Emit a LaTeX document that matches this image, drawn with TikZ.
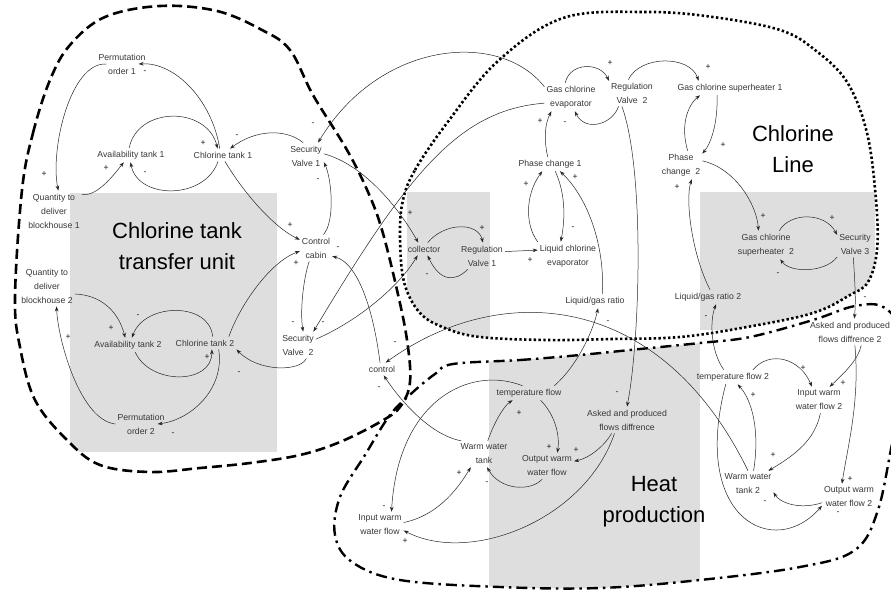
\documentclass[tikz,border=0pt]{standalone}
\usepackage{fontspec}
\setmainfont{Liberation Sans}
\usetikzlibrary{arrows.meta}
\newcommand{\lfs}{\fontsize{8.7}{14}\selectfont}
\newcommand{\bfs}{\fontsize{22}{31}\selectfont}
\newcommand{\sfs}{\fontsize{8.5}{9}\selectfont}
\begin{document}
\begin{tikzpicture}[x=1pt,y=-1pt,
  lbl/.style={font=\lfs, align=center, text=black!78, inner xsep=2pt, inner ysep=3pt},
  big/.style={font=\bfs, align=center, text=black},
  sg/.style={font=\sfs, text=black!90, inner sep=0pt},
  arr/.style={draw=black!85, line width=0.5pt, -{Stealth[length=5pt,width=3.6pt]}},
  gfill/.style={fill=black!13},
  tubound/.style={draw=black, line width=2.6pt, dash pattern=on 10pt off 5pt},
  clbound/.style={draw=black, line width=2.6pt, dash pattern=on 2.4pt off 2.4pt},
  hpbound/.style={draw=black, line width=2.4pt, dash pattern=on 11pt off 5pt on 2.5pt off 5pt}]
\fill[white] (0,0) rectangle (891,591);
\useasboundingbox (0,0) rectangle (891,591);
% gray areas
\begin{scope}
\clip plot[smooth cycle, tension=0.6] coordinates {(22,190) (33,133) (50,80) (70,45) (105,17) (160,6) (217,11) (262,30) (290,50) (313,95) (347,150) (368,192) (382,230) (397,290) (407,340) (410,382) (400,407) (380,422) (340,442) (300,455) (250,463) (200,468) (150,472) (100,465) (67,440) (35,400) (20,347) (15,297)};
\fill[gfill] (70,193) rectangle (277,452);
\end{scope}
\begin{scope}
\clip plot[smooth cycle, tension=0.6] coordinates {(403,200) (415,170) (447,123) (497,62) (563,18) (647,12) (713,17) (780,30) (815,50) (847,82) (867,133) (876,200) (877,250) (868,282) (850,295) (813,313) (747,327) (680,337) (613,339) (547,340) (480,337) (445,328) (420,313) (404,282) (400,235)};
\fill[gfill] (407,192) rectangle (490,345);
\fill[gfill] (700,192) rectangle (875,330);
\end{scope}
\begin{scope}
\clip plot[smooth cycle, tension=0.6] coordinates {(453,364) (520,360) (580,355) (640,349) (700,343) (750,337) (813,320) (855,306) (885,308) (906,340) (905,400) (893,440) (878,510) (855,550) (800,567) (700,580) (600,588) (500,587) (400,580) (352,562) (335,535) (340,497) (365,455) (390,415) (413,392) (435,374)};
\fill[gfill] (489,330) rectangle (700,595);
\end{scope}
% boundaries
\draw[tubound] plot[smooth cycle, tension=0.6] coordinates {(22,190) (33,133) (50,80) (70,45) (105,17) (160,6) (217,11) (262,30) (290,50) (313,95) (347,150) (368,192) (382,230) (397,290) (407,340) (410,382) (400,407) (380,422) (340,442) (300,455) (250,463) (200,468) (150,472) (100,465) (67,440) (35,400) (20,347) (15,297)};
\draw[clbound] plot[smooth cycle, tension=0.6] coordinates {(403,200) (415,170) (447,123) (497,62) (563,18) (647,12) (713,17) (780,30) (815,50) (847,82) (867,133) (876,200) (877,250) (868,282) (850,295) (813,313) (747,327) (680,337) (613,339) (547,340) (480,337) (445,328) (420,313) (404,282) (400,235)};
\draw[hpbound] plot[smooth cycle, tension=0.6] coordinates {(453,364) (520,360) (580,355) (640,349) (700,343) (750,337) (813,320) (855,306) (885,308) (906,340) (905,400) (893,440) (878,510) (855,550) (800,567) (700,580) (600,588) (500,587) (400,580) (352,562) (335,535) (340,497) (365,455) (390,415) (413,392) (435,374)};
% big labels
\node[big] (BL1) at (177,246) {Chlorine tank\\transfer unit};
\node[big] (BL2) at (793,149) {Chlorine\\Line};
\node[big] (BL3) at (654,502) {Heat\\production};
% variables
\node[lbl] (P1) at (122,64) {Permutation\\order 1};
\node[lbl] (AT1) at (131,155) {Availability tank 1};
\node[lbl] (CT1) at (223,155) {Chlorine tank 1};
\node[lbl] (Q1) at (54,211) {Quantity to\\deliver\\blockhouse 1};
\node[lbl] (Q2) at (47,286) {Quantity to\\deliver\\blockhouse 2};
\node[lbl] (AT2) at (128,345) {Availability tank 2};
\node[lbl] (CT2) at (205,343) {Chlorine tank 2};
\node[lbl] (P2) at (141,424) {Permutation\\order 2};
\node[lbl] (SV1) at (306,156) {Security\\Valve 1};
\node[lbl] (CC) at (316,248) {Control\\cabin};
\node[lbl] (SV2) at (298,345) {Security\\Valve~ 2};
\node[lbl] (CTRL) at (382,369) {control};
\node[lbl] (COL) at (424,249) {collector};
\node[lbl] (RV1) at (482,256) {Regulation\\Valve 1};
\node[lbl] (LCE) at (568,256) {Liquid chlorine\\evaporator};
\node[lbl] (LGR) at (595,301) {Liquid/gas ratio};
\node[lbl] (PC1) at (550,164) {Phase change 1};
\node[lbl] (GCE) at (571,97) {Gas chlorine\\evaporator};
\node[lbl] (RV2) at (632,93) {Regulation\\Valve~ 2};
\node[lbl] (GCS1) at (730,88) {Gas chlorine superheater 1};
\node[lbl] (PC2) at (681,165) {Phase\\change~ 2};
\node[lbl] (GCS2) at (766,245) {Gas chlorine\\superheater~ 2};
\node[lbl] (SV3) at (855,244) {Security\\Valve 3};
\node[lbl] (LGR2) at (708,297) {Liquid/gas ratio 2};
\node[lbl] (APFD2) at (850,332) {Asked and produced\\flows diffrence 2};
\node[lbl] (TF2) at (733,377) {temperature flow 2};
\node[lbl] (IWF2) at (819,400) {Input warm\\water flow 2};
\node[lbl] (WWT2) at (748,484) {Warm water\\tank 2};
\node[lbl] (OWF2) at (849,497) {Output warm\\water flow 2};
\node[lbl] (TF) at (529,393) {temperature flow};
\node[lbl] (APFD) at (627,420) {Asked and produced\\flows diffrence};
\node[lbl] (WWT) at (484,454) {Warm water\\tank};
\node[lbl] (OWF) at (547,466) {Output warm\\water flow};
\node[lbl] (IWF) at (380,525) {Input warm\\water flow};
% connectors
\draw[arr] (CT1.117) .. controls (212,100) and (175,62) .. ([xshift=-9pt]P1.east);
\draw[arr] ([xshift=10pt]P1.west) .. controls (70,62) and (50,150) .. (Q1.78);
\draw[arr] (Q1.31) .. controls (95,197) and (110,180) .. (AT1.225);
\draw[arr] (AT1.104) .. controls (138,106) and (207,106) .. (CT1.130);
\draw[arr] (CT1.232) .. controls (205,200) and (138,200) .. (AT1.266);
\draw[arr] (SV1.102) .. controls (285,128) and (255,130) .. (CT1.42);
\draw[arr] (CT1.287) .. controls (245,195) and (275,228) .. (CC.153);
\draw[arr] (CC.61) .. controls (335,222) and (332,180) .. (SV1.341);
\draw[arr] (CT2.15) .. controls (240,305) and (270,262) .. (CC.191);
\draw[arr] (CC.243) .. controls (303,280) and (300,312) .. (SV2.69);
\draw[arr] (GCE.159) .. controls (500,30) and (380,40) .. (SV1.48);
\draw[arr] (GCE.193) .. controls (460,110) and (410,170) .. (SV2.41);
\draw[arr] (SV1.7) .. controls (365,165) and (400,210) .. (COL.132);
\draw[arr] (SV2.18) .. controls (360,320) and (400,285) .. (COL.225);
\draw[arr] (SV2.302) .. controls (300,372) and (258,372) .. (CT2.south east);
\draw[arr] (Q2.344) .. controls (100,295) and (118,310) .. (AT2.111);
\draw[arr] (CT2.40) .. controls (210,302) and (145,302) .. (AT2.62);
\draw[arr] (AT2.315) .. controls (150,385) and (212,385) .. (CT2.317);
\draw[arr] (CT2.335) .. controls (225,390) and (190,420) .. ([xshift=-9pt]P2.east);
\draw[arr] (P2.west) .. controls (80,420) and (58,340) .. (Q2.295);
\draw[arr] (COL.60) .. controls (445,222) and (478,222) .. (RV1.86);
\draw[arr] (RV1.223) .. controls (455,282) and (440,282) .. (COL.299);
\draw[arr] (RV1.11) -- (LCE.169);
\draw[arr] (LCE.155) .. controls (525,225) and (525,195) .. (PC1.223);
\draw[arr] (PC1.306) .. controls (566,195) and (565,220) .. (LCE.117);
\draw[arr] (LGR.45) .. controls (605,250) and (590,200) .. (PC1.324);
\draw[arr] (PC1.108) .. controls (543,135) and (546,122) .. (GCE.216);
\draw[arr] (GCE.112) .. controls (570,62) and (600,62) .. (RV2.152);
\draw[arr] (RV2.225) .. controls (612,125) and (585,132) .. (GCE.285);
\draw[arr] (RV2.105) .. controls (640,55) and (690,55) .. (GCS1.167);
\draw[arr] ([xshift=-13pt]GCS1.south) .. controls (718,120) and (712,142) .. (PC2.28);
\draw[arr] (PC2.65) .. controls (680,125) and (688,105) .. ([xshift=-30pt]GCS1.south);
\draw[arr] (RV2.233) .. controls (645,170) and (640,340) .. (APFD.north);
\draw[arr] (LGR2.74) .. controls (692,255) and (685,200) .. (PC2.307);
\draw[arr] (PC2.11) .. controls (735,168) and (757,205) .. (GCS2.118);
\draw[arr] (GCS2.47) .. controls (790,212) and (825,212) .. (SV3.153);
\draw[arr] (SV3.216) .. controls (825,273) and (790,273) .. (GCS2.315);
\draw[arr] (SV3.263) .. controls (855,285) and (856,300) .. (APFD2.72);
\draw[arr] (APFD2.310) .. controls (858,360) and (845,372) .. (IWF2.51);
\draw[arr] (APFD2.290) .. controls (860,400) and (848,445) .. (OWF2.118);
\draw[arr] (TF2.20) .. controls (770,350) and (800,358) .. (IWF2.118);
\draw[arr] (WWT2.67) .. controls (760,430) and (752,400) .. (TF2.302);
\draw[arr] (TF2.142) .. controls (710,350) and (710,320) .. (LGR2.318);
\draw[arr] (TF2.225) .. controls (690,520) and (775,560) .. (OWF2.198);
\draw[arr] (IWF2.276) .. controls (815,440) and (795,455) .. (WWT2.33);
\draw[arr] (OWF2.192) .. controls (800,510) and (780,503) .. (WWT2.342);
\draw[arr] (WWT2.north) .. controls (660,290) and (500,280) .. (CTRL.60);
\draw[arr] (WWT.150) .. controls (430,435) and (400,400) .. (CTRL.285);
\draw[arr] (CTRL.107) .. controls (372,300) and (355,262) .. (CC.333);
\draw[arr] (TF.16) .. controls (575,368) and (592,335) .. (LGR.293);
\draw[arr] (WWT.74) .. controls (495,420) and (505,405) .. (TF.204);
\draw[arr] (TF.328) .. controls (555,415) and (560,435) .. (OWF.52);
\draw[arr] (APFD.221) .. controls (605,445) and (590,458) .. (OWF.10);
\draw[arr] (APFD.227) .. controls (585,520) and (470,565) .. (IWF.347);
\draw[arr] (OWF.250) .. controls (530,492) and (500,490) .. (WWT.283);
\draw[arr] (IWF.6) .. controls (440,515) and (460,485) .. (WWT.225);
\draw[arr] (TF.132) .. controls (470,365) and (398,400) .. (IWF.49);
% polarity signs
\node[sg] (s1) at (145,72) {-};
\node[sg] (s2) at (44,174) {+};
\node[sg] (s3) at (106,168) {+};
\node[sg] (s4) at (145,173) {-};
\node[sg] (s5) at (203,143) {+};
\node[sg] (s6) at (237,136) {-};
\node[sg] (s7) at (290,225) {+};
\node[sg] (s8) at (318,180) {-};
\node[sg] (s9) at (313,124) {-};
\node[sg] (s10) at (296,263) {+};
\node[sg] (s11) at (293,323) {-};
\node[sg] (s12) at (323,323) {-};
\node[sg] (s13) at (338,248) {-};
\node[sg] (s14) at (410,213) {+};
\node[sg] (s15) at (427,275) {-};
\node[sg] (s16) at (239,373) {-};
\node[sg] (s17) at (138,316) {-};
\node[sg] (s18) at (111,328) {+};
\node[sg] (s19) at (207,357) {+};
\node[sg] (s20) at (173,434) {-};
\node[sg] (s21) at (68,337) {+};
\node[sg] (s22) at (482,228) {+};
\node[sg] (s23) at (530,260) {+};
\node[sg] (s24) at (526,184) {+};
\node[sg] (s25) at (573,228) {-};
\node[sg] (s26) at (575,177) {+};
\node[sg] (s27) at (540,121) {+};
\node[sg] (s28) at (610,63) {+};
\node[sg] (s29) at (565,123) {-};
\node[sg] (s30) at (708,67) {+};
\node[sg] (s31) at (723,145) {+};
\node[sg] (s32) at (617,393) {-};
\node[sg] (s33) at (677,187) {+};
\node[sg] (s34) at (763,216) {+};
\node[sg] (s35) at (832,218) {+};
\node[sg] (s36) at (778,274) {-};
\node[sg] (s37) at (865,298) {-};
\node[sg] (s38) at (843,383) {+};
\node[sg] (s39) at (850,479) {+};
\node[sg] (s40) at (803,368) {+};
\node[sg] (s41) at (753,395) {+};
\node[sg] (s42) at (706,317) {-};
\node[sg] (s43) at (838,513) {-};
\node[sg] (s44) at (773,455) {+};
\node[sg] (s45) at (765,502) {-};
\node[sg] (s46) at (395,343) {-};
\node[sg] (s47) at (379,388) {-};
\node[sg] (s48) at (608,322) {-};
\node[sg] (s49) at (519,413) {+};
\node[sg] (s50) at (549,447) {+};
\node[sg] (s51) at (576,450) {+};
\node[sg] (s52) at (405,541) {+};
\node[sg] (s53) at (487,483) {-};
\node[sg] (s54) at (459,473) {+};
\node[sg] (s55) at (384,507) {-};
\end{tikzpicture}
\end{document}
